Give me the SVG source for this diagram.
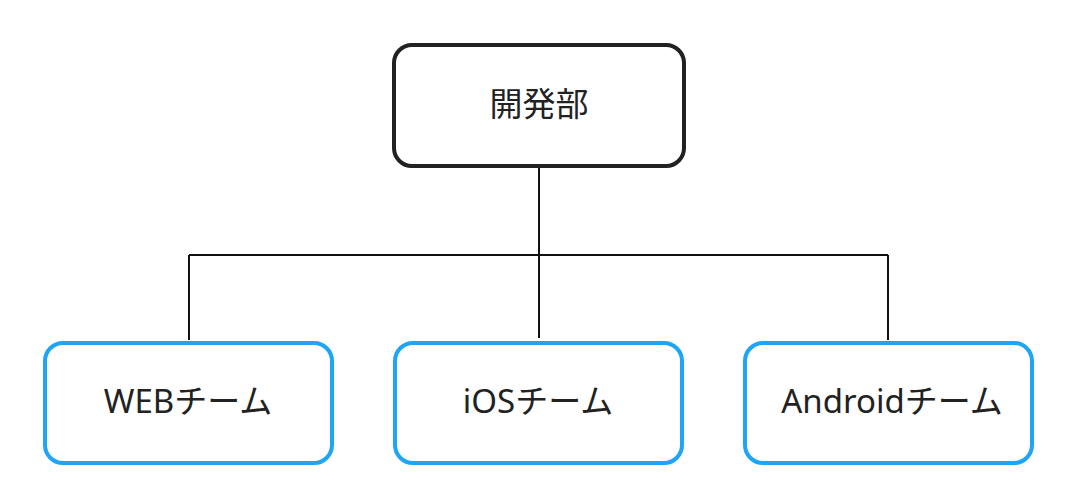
<svg xmlns="http://www.w3.org/2000/svg" width="1084" height="502" viewBox="0 0 1084 502">
<style>
.top{fill:#fff;stroke:#222;stroke-width:4}
.team{fill:#fff;stroke:#1ea5f7;stroke-width:4}
.t{font-family:"Noto Sans","Noto Sans CJK JP",sans-serif;font-size:33px;fill:#222;text-anchor:middle;dominant-baseline:central}
.c{fill:none;stroke:#111;stroke-width:2}
</style>
<rect width="1084" height="502" fill="#fff"/>
<g id="connectors">
<path class="c" d="M539 166V338M189 255H888M189 255V340M888 255V340"/>
</g>
<g id="dev"><rect class="top" x="394" y="45" width="290" height="121" rx="18"/><text class="t" x="539" y="103">開発部</text></g>
<g id="web"><rect class="team" x="45" y="343" width="287" height="120" rx="18"/><text class="t" x="188" y="400">WEBチーム</text></g>
<g id="ios"><rect class="team" x="395" y="343" width="287" height="120" rx="18"/><text class="t" x="538" y="400">iOSチーム</text></g>
<g id="android"><rect class="team" x="745" y="343" width="287" height="120" rx="18"/><text class="t" x="892" y="400">Androidチーム</text></g>
</svg>
